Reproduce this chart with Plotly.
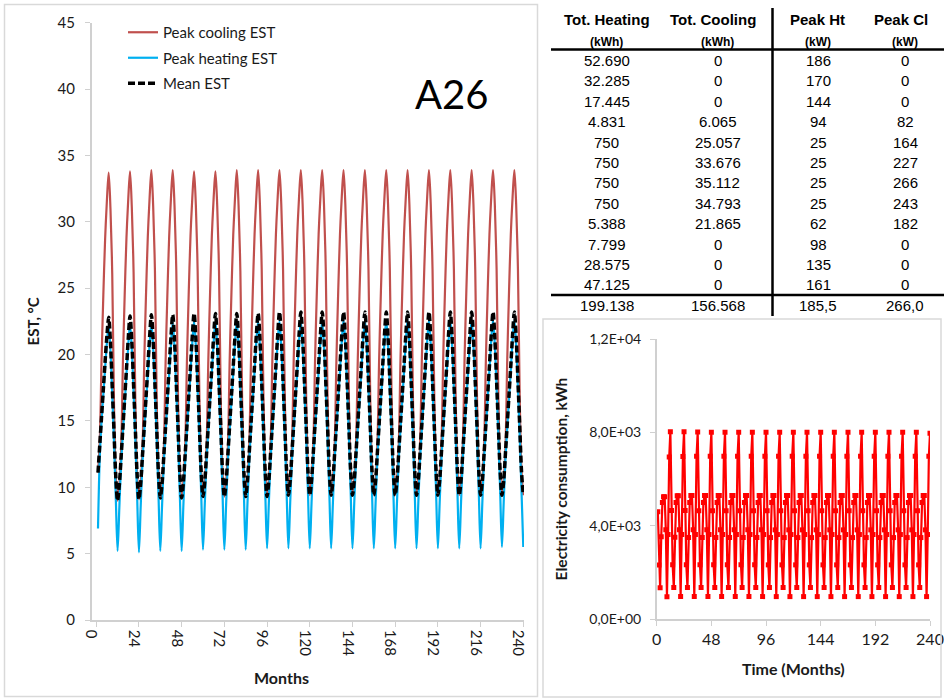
import plotly.graph_objects as go

W, H = 944, 698

# ---------------- main chart data (EST, °C), one row per year, months 1..12
mean_est_years = [
    [11.1, 13.2, 15.3, 17.4, 19.5, 21.4, 22.8, 20.9, 17.6, 14.2, 10.8, 9.0],
    [10.2, 12.3, 14.5, 16.7, 18.9, 21.2, 22.9, 21.0, 17.7, 14.3, 10.9, 9.1],
    [10.3, 12.4, 14.6, 16.8, 19.0, 21.3, 23.0, 21.1, 17.8, 14.4, 11.0, 9.2],
    [10.3, 12.4, 14.6, 16.8, 19.0, 21.3, 23.0, 21.1, 17.8, 14.4, 11.0, 9.2],
    [10.4, 12.5, 14.7, 16.9, 19.1, 21.4, 23.1, 21.2, 17.9, 14.5, 11.1, 9.3],
    [10.4, 12.5, 14.7, 16.9, 19.1, 21.4, 23.1, 21.2, 17.9, 14.5, 11.1, 9.3],
    [10.4, 12.5, 14.7, 16.9, 19.1, 21.4, 23.1, 21.2, 17.9, 14.5, 11.1, 9.3],
    [10.5, 12.6, 14.8, 17.0, 19.2, 21.5, 23.1, 21.2, 17.9, 14.5, 11.1, 9.3],
    [10.5, 12.6, 14.8, 17.0, 19.2, 21.5, 23.2, 21.3, 18.0, 14.6, 11.2, 9.4],
    [10.5, 12.6, 14.8, 17.0, 19.2, 21.5, 23.2, 21.3, 18.0, 14.6, 11.2, 9.4],
    [10.5, 12.6, 14.8, 17.0, 19.2, 21.5, 23.2, 21.3, 18.0, 14.6, 11.2, 9.4],
    [10.5, 12.6, 14.8, 17.0, 19.2, 21.5, 23.2, 21.3, 18.0, 14.6, 11.2, 9.4],
    [10.5, 12.6, 14.8, 17.0, 19.2, 21.5, 23.2, 21.3, 18.0, 14.6, 11.2, 9.4],
    [10.5, 12.6, 14.8, 17.0, 19.2, 21.5, 23.2, 21.3, 18.0, 14.6, 11.2, 9.4],
    [10.5, 12.6, 14.8, 17.0, 19.2, 21.5, 23.2, 21.3, 18.0, 14.6, 11.2, 9.4],
    [10.5, 12.6, 14.8, 17.0, 19.2, 21.5, 23.2, 21.3, 18.0, 14.6, 11.2, 9.4],
    [10.5, 12.6, 14.8, 17.0, 19.2, 21.5, 23.2, 21.3, 18.0, 14.6, 11.2, 9.4],
    [10.5, 12.6, 14.8, 17.0, 19.2, 21.5, 23.2, 21.3, 18.0, 14.6, 11.2, 9.4],
    [10.5, 12.6, 14.8, 17.0, 19.2, 21.5, 23.2, 21.3, 18.0, 14.6, 11.2, 9.4],
    [10.5, 12.6, 14.8, 17.0, 19.2, 21.5, 23.2, 21.3, 18.0, 14.6, 11.2, 9.4],
]

peak_cooling_years = [
    [11.1, 13.5, 19.6, 24.5, 28.7, 31.6, 33.7, 31.0, 26.1, 16.3, 10.8, 9.0],
    [10.2, 12.8, 19.4, 24.5, 28.8, 31.7, 33.8, 31.1, 26.2, 16.4, 10.9, 9.1],
    [10.3, 12.9, 19.5, 24.6, 28.9, 31.8, 33.9, 31.2, 26.3, 16.5, 11.0, 9.2],
    [10.3, 12.9, 19.5, 24.6, 28.9, 31.8, 33.9, 31.2, 26.3, 16.5, 11.0, 9.2],
    [10.4, 13.0, 19.6, 24.7, 29.0, 31.8, 33.8, 31.2, 26.3, 16.6, 11.1, 9.3],
    [10.4, 13.0, 19.6, 24.7, 29.0, 31.8, 33.8, 31.2, 26.3, 16.6, 11.1, 9.3],
    [10.4, 13.0, 19.6, 24.7, 29.0, 31.8, 33.9, 31.2, 26.3, 16.6, 11.1, 9.3],
    [10.5, 13.1, 19.7, 24.8, 29.1, 31.9, 33.9, 31.3, 26.4, 16.6, 11.1, 9.3],
    [10.5, 13.1, 19.7, 24.8, 29.1, 31.9, 33.9, 31.3, 26.4, 16.7, 11.2, 9.4],
    [10.5, 13.1, 19.7, 24.8, 29.1, 31.9, 33.9, 31.3, 26.4, 16.7, 11.2, 9.4],
    [10.5, 13.1, 19.7, 24.8, 29.1, 31.9, 33.9, 31.3, 26.4, 16.7, 11.2, 9.4],
    [10.5, 13.1, 19.7, 24.8, 29.1, 31.9, 33.9, 31.3, 26.4, 16.7, 11.2, 9.4],
    [10.5, 13.1, 19.7, 24.8, 29.1, 31.9, 33.9, 31.3, 26.4, 16.7, 11.2, 9.4],
    [10.5, 13.1, 19.7, 24.8, 29.1, 31.9, 33.9, 31.3, 26.4, 16.7, 11.2, 9.4],
    [10.5, 13.1, 19.7, 24.8, 29.1, 31.9, 33.9, 31.3, 26.4, 16.7, 11.2, 9.4],
    [10.5, 13.1, 19.7, 24.8, 29.1, 31.9, 33.9, 31.3, 26.4, 16.7, 11.2, 9.4],
    [10.5, 13.1, 19.7, 24.8, 29.1, 31.9, 33.9, 31.3, 26.4, 16.7, 11.2, 9.4],
    [10.5, 13.1, 19.7, 24.8, 29.1, 31.9, 33.9, 31.3, 26.4, 16.7, 11.2, 9.4],
    [10.5, 13.1, 19.7, 24.8, 29.1, 31.9, 33.9, 31.3, 26.4, 16.7, 11.2, 9.4],
    [10.5, 13.1, 19.7, 24.8, 29.1, 31.9, 33.9, 31.3, 26.4, 16.7, 11.2, 9.4],
]

peak_heating_years = [
    [6.9, 12.3, 15.0, 17.0, 19.0, 20.9, 22.2, 20.3, 17.0, 13.4, 9.2, 5.2],
    [8.5, 11.8, 14.1, 16.3, 18.5, 20.7, 22.3, 20.4, 17.1, 13.5, 9.3, 5.1],
    [8.6, 11.9, 14.2, 16.4, 18.6, 20.8, 22.4, 20.5, 17.2, 13.6, 9.4, 5.2],
    [8.6, 11.9, 14.2, 16.4, 18.6, 20.8, 22.4, 20.5, 17.2, 13.6, 9.4, 5.2],
    [8.7, 12.0, 14.3, 16.5, 18.7, 20.9, 22.5, 20.6, 17.3, 13.7, 9.5, 5.3],
    [8.7, 12.0, 14.3, 16.5, 18.7, 20.9, 22.5, 20.6, 17.3, 13.7, 9.5, 5.3],
    [8.7, 12.0, 14.3, 16.5, 18.7, 20.9, 22.5, 20.6, 17.3, 13.7, 9.5, 5.3],
    [8.8, 12.1, 14.4, 16.6, 18.8, 21.0, 22.5, 20.6, 17.3, 13.7, 9.6, 5.4],
    [8.8, 12.1, 14.4, 16.6, 18.8, 21.0, 22.5, 20.6, 17.3, 13.7, 9.6, 5.4],
    [8.8, 12.1, 14.4, 16.6, 18.8, 21.0, 22.5, 20.6, 17.3, 13.7, 9.6, 5.4],
    [8.8, 12.1, 14.4, 16.6, 18.8, 21.0, 22.5, 20.6, 17.3, 13.7, 9.6, 5.4],
    [8.8, 12.1, 14.4, 16.6, 18.8, 21.0, 22.6, 20.7, 17.4, 13.8, 9.6, 5.4],
    [8.8, 12.1, 14.4, 16.6, 18.8, 21.0, 22.6, 20.7, 17.4, 13.8, 9.6, 5.4],
    [8.8, 12.1, 14.4, 16.6, 18.8, 21.0, 22.6, 20.7, 17.4, 13.8, 9.6, 5.4],
    [8.8, 12.1, 14.4, 16.6, 18.8, 21.0, 22.6, 20.7, 17.4, 13.8, 9.6, 5.4],
    [8.8, 12.1, 14.4, 16.6, 18.8, 21.0, 22.6, 20.7, 17.4, 13.8, 9.6, 5.4],
    [8.8, 12.1, 14.4, 16.6, 18.8, 21.0, 22.6, 20.7, 17.4, 13.8, 9.6, 5.4],
    [8.8, 12.1, 14.4, 16.6, 18.8, 21.0, 22.6, 20.7, 17.4, 13.8, 9.6, 5.4],
    [8.9, 12.2, 14.5, 16.7, 18.9, 21.1, 22.6, 20.7, 17.4, 13.8, 9.7, 5.5],
    [8.9, 12.2, 14.5, 16.7, 18.9, 21.1, 22.6, 20.7, 17.4, 13.8, 9.7, 5.5],
]

# ---------------- inset data: electricity consumption (kWh), one row per year
electricity_years = [
    [4600, 2310, 1340, 3530, 4990, 5240, 5240, 3820, 955, 3620, 6940, 8030],
    [4650, 2320, 1350, 3500, 4990, 5280, 5280, 3820, 960, 3620, 6960, 8020],
    [4650, 2320, 1350, 3490, 4990, 5290, 5290, 3820, 960, 3620, 6970, 8010],
    [4640, 2320, 1350, 3490, 4990, 5290, 5290, 3820, 960, 3620, 6970, 8000],
    [4640, 2320, 1350, 3490, 4990, 5290, 5290, 3820, 960, 3620, 6970, 8000],
    [4640, 2320, 1350, 3490, 4990, 5290, 5290, 3820, 960, 3620, 6970, 8000],
    [4640, 2320, 1350, 3490, 4990, 5290, 5290, 3820, 960, 3620, 6970, 8000],
    [4640, 2320, 1350, 3490, 4990, 5290, 5290, 3820, 960, 3620, 6970, 8000],
    [4640, 2320, 1350, 3490, 4990, 5290, 5290, 3820, 960, 3620, 6970, 8000],
    [4640, 2320, 1350, 3490, 4990, 5290, 5290, 3820, 960, 3620, 6970, 8000],
    [4640, 2320, 1350, 3490, 4990, 5290, 5290, 3820, 960, 3620, 6970, 8000],
    [4640, 2320, 1350, 3490, 4990, 5290, 5290, 3820, 960, 3620, 6970, 8000],
    [4640, 2320, 1350, 3490, 4990, 5290, 5290, 3820, 960, 3620, 6970, 8000],
    [4640, 2320, 1350, 3490, 4990, 5290, 5290, 3820, 960, 3620, 6970, 8000],
    [4640, 2320, 1350, 3490, 4990, 5290, 5290, 3820, 960, 3620, 6970, 8000],
    [4640, 2320, 1350, 3490, 4990, 5290, 5290, 3820, 960, 3620, 6970, 8000],
    [4640, 2320, 1350, 3490, 4990, 5290, 5290, 3820, 960, 3620, 6970, 8000],
    [4640, 2320, 1350, 3490, 4990, 5290, 5290, 3820, 960, 3620, 6970, 8000],
    [4640, 2320, 1350, 3490, 4990, 5290, 5290, 3820, 960, 3620, 6970, 8000],
    [4640, 2320, 1350, 3490, 4990, 5290, 5290, 3820, 960, 3620, 6970, 7960],
]

months = list(range(1, 241))
main_ticks = [0, 24, 48, 72, 96, 120, 144, 168, 192, 216, 240]
inset_ticks = [0, 48, 96, 144, 192, 240]
inset_yticks = [0, 4000, 8000, 12000]
inset_yticktext = ["0,0E+00", "4,0E+03", "8,0E+03", "1,2E+04"]

# ---------------- table data
table_headers = ["Tot. Heating", "Tot. Cooling", "Peak Ht", "Peak Cl"]
table_units = ["(kWh)", "(kWh)", "(kW)", "(kW)"]
tot_heating = [52690, 32285, 17445, 4831, 750, 750, 750, 750, 5388, 7799, 28575, 47125]
tot_cooling = [0, 0, 0, 6065, 25057, 33676, 35112, 34793, 21865, 0, 0, 0]
peak_ht = [186, 170, 144, 94, 25, 25, 25, 25, 62, 98, 135, 161]
peak_cl = [0, 0, 0, 82, 164, 227, 266, 243, 182, 0, 0, 0]
totals = [199138, 156568, 185.5, 266.0]


def flat(rows):
    out = []
    for r in rows:
        out.extend(r)
    return out


def fmt_int(v):
    return f"{v:,}".replace(",", ".")


def fmt_dec(v):
    return f"{v:.1f}".replace(".", ",")


def px(x):
    return x / W


def py(y):
    return 1 - y / H


FONT = "Lato, 'Open Sans', sans-serif"
ARIAL = "'Liberation Sans', Arial, sans-serif"
TXT = "#1a1a1a"
AXC = "#d0d0d0"

fig = go.Figure()

fig.add_trace(go.Scatter(
    x=months, y=flat(peak_cooling_years), name="Peak cooling EST", mode="lines",
    legendgroup="a",
    line=dict(color="#c0504d", width=2.2, shape="spline", smoothing=0.9),
    xaxis="x", yaxis="y"))
fig.add_trace(go.Scatter(
    x=months, y=flat(peak_heating_years), name="Peak heating EST", mode="lines",
    legendgroup="b",
    line=dict(color="#00b0f0", width=2.2, shape="spline", smoothing=0.9),
    xaxis="x", yaxis="y"))
fig.add_trace(go.Scatter(
    x=months, y=flat(mean_est_years), name="Mean EST", mode="lines",
    legendgroup="c",
    line=dict(color="#000000", width=3.5, dash="7px,3px", shape="spline", smoothing=0.9),
    xaxis="x", yaxis="y"))
fig.add_trace(go.Scatter(
    x=months, y=flat(electricity_years), name="Electricity", mode="lines+markers",
    line=dict(color="#ff0000", width=2.2),
    marker=dict(symbol="square", size=5, color="#ff0000"),
    xaxis="x2", yaxis="y2", showlegend=False))

axis_common = dict(showgrid=False, zeroline=False, showline=True, linecolor=AXC,
                   linewidth=1.5, ticks="outside", ticklen=5, tickcolor=AXC,
                   automargin=False,
                   tickfont=dict(family=FONT, size=15, color=TXT))

fig.update_layout(
    width=W, height=H, margin=dict(l=0, r=0, t=0, b=0, autoexpand=False), autosize=False,
    paper_bgcolor="white", plot_bgcolor="white",
    xaxis=dict(axis_common, domain=[px(91.7), px(524.0)], range=[-2.54, 240.4],
               tickvals=main_ticks, tickangle=90, anchor="y", ticklabelshift=-5),
    yaxis=dict(axis_common, domain=[py(620), py(22.7)], range=[0, 45], dtick=5, anchor="x",
               ticklabelstandoff=7,
               title=dict(text="<b>EST, °C</b>", font=dict(family=FONT, size=15, color=TXT), standoff=14)),
    xaxis2=dict(axis_common, domain=[px(656.7), px(930.0)], range=[0, 240],
                tickvals=inset_ticks, anchor="y2",
                tickfont=dict(family=FONT, size=16, color=TXT),
                title=dict(text="<b>Time (Months)</b>", font=dict(family=FONT, size=16, color=TXT), standoff=17)),
    yaxis2=dict(axis_common, domain=[py(619), py(339)], range=[0, 12000], anchor="x2",
                tickvals=inset_yticks, ticktext=inset_yticktext, ticklabelstandoff=6,
                tickfont=dict(family=FONT, size=14, color=TXT),
                title=dict(text="<b>Electricity consumption, kWh</b>", font=dict(family=FONT, size=15.5, color=TXT), standoff=18)),
    legend=dict(x=px(123), y=py(16), xanchor="left", yanchor="top",
                bgcolor="rgba(0,0,0,0)", font=dict(family=FONT, size=15, color=TXT),
                tracegroupgap=3),
    showlegend=True,
)

shapes = []
# panel frames
shapes.append(dict(type="rect", xref="paper", yref="paper", x0=px(4.5), x1=px(537.5),
                   y0=py(696.5), y1=py(4.5), line=dict(color="#d9d9d9", width=1.5)))
shapes.append(dict(type="rect", xref="paper", yref="paper", x0=px(543), x1=px(941),
                   y0=py(697), y1=py(319), line=dict(color="#d9d9d9", width=1.5)))
# table rules
shapes.append(dict(type="line", xref="paper", yref="paper", x0=px(551), x1=px(944),
                   y0=py(49.5), y1=py(49.5), line=dict(color="#000", width=2.5)))
shapes.append(dict(type="line", xref="paper", yref="paper", x0=px(551), x1=px(944),
                   y0=py(295), y1=py(295), line=dict(color="#000", width=2.5)))
shapes.append(dict(type="line", xref="paper", yref="paper", x0=px(772.5), x1=px(772.5),
                   y0=py(8), y1=py(316), line=dict(color="#000", width=2.5)))
fig.update_layout(shapes=shapes)

annotations = []
header_cx = [606.7, 713.0, 817.5, 900.5]
data_cx = [606.7, 717.7, 818.0, 905.0]
for cx, h in zip(header_cx, table_headers):
    annotations.append(dict(x=px(cx), y=py(19.5), xref="paper", yref="paper", text=f"<b>{h}</b>",
                            showarrow=False, xanchor="center", yanchor="middle",
                            font=dict(family=ARIAL, size=15, color="#000")))
for cx, u in zip(data_cx, table_units):
    annotations.append(dict(x=px(cx), y=py(41.5), xref="paper", yref="paper", text=f"<b>{u}</b>",
                            showarrow=False, xanchor="center", yanchor="middle",
                            font=dict(family=ARIAL, size=12, color="#000")))
cols = [[fmt_int(v) for v in tot_heating], [fmt_int(v) for v in tot_cooling],
        [str(v) for v in peak_ht], [str(v) for v in peak_cl]]
for ci, col in enumerate(cols):
    for ri, val in enumerate(col):
        annotations.append(dict(x=px(data_cx[ci]), y=py(60.5 + 20.4 * ri), xref="paper", yref="paper",
                                text=val, showarrow=False, xanchor="center", yanchor="middle",
                                font=dict(family=ARIAL, size=15, color="#000")))
tot_text = [fmt_int(totals[0]), fmt_int(totals[1]), fmt_dec(totals[2]), fmt_dec(totals[3])]
for ci, t in enumerate(tot_text):
    annotations.append(dict(x=px(data_cx[ci]), y=py(305), xref="paper", yref="paper",
                            text=t, showarrow=False, xanchor="center", yanchor="middle",
                            font=dict(family=ARIAL, size=15, color="#000")))
annotations.append(dict(x=px(451), y=py(94), xref="paper", yref="paper", text="A26",
                        showarrow=False, xanchor="center", yanchor="middle",
                        font=dict(family=FONT, size=40, color="#000")))
# main x-axis title (placed as in the reference, left of plot centre)
annotations.append(dict(x=px(281), y=py(677), xref="paper", yref="paper", text="<b>Months</b>",
                        showarrow=False, xanchor="center", yanchor="middle",
                        font=dict(family=FONT, size=16, color=TXT)))
fig.update_layout(annotations=annotations)

fig.write_html("out.html", config={"displayModeBar": False},
               post_script="document.body.style.margin='0px';")
